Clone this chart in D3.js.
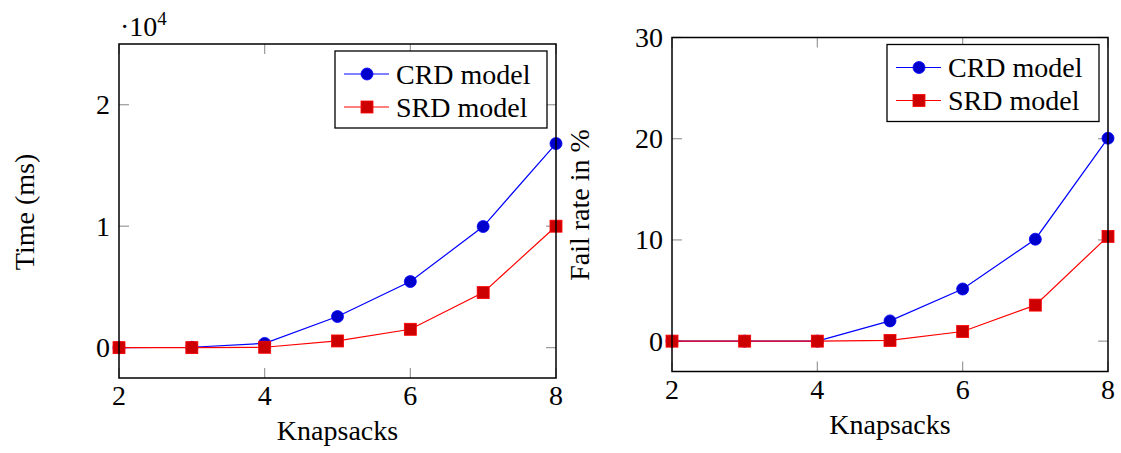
<!DOCTYPE html>
<html>
<head>
<meta charset="utf-8">
<script src="https://cdn.jsdelivr.net/npm/d3@7"></script>
<style>
  body { margin: 0; background: #fff; }
</style>
</head>
<body>
<svg id="chart" width="1121" height="453"></svg>
<script>
// knapsack counts on the x axis
var knapsacks = [2, 3, 4, 5, 6, 7, 8];
var xTicks = [2, 4, 6, 8];

// left panel: run time (ms)
var timeCRD = [0, 30, 350, 2560, 5440, 9970, 16800];
var timeSRD = [0, 0, 30, 550, 1510, 4530, 10000];
var timeTicks = [0, 10000, 20000];

// right panel: fail rate (%)
var failCRD = [0, 0, 0, 2.0, 5.15, 10.07, 20.05];
var failSRD = [0, 0, 0, 0.07, 0.95, 3.56, 10.35];
var failTicks = [0, 10, 20, 30];

var seriesNames = ["CRD model", "SRD model"];

const FONT = "'Liberation Serif', serif";
const svg = d3.select("#chart").style("font-family", FONT);
const FS = 28;

function addText(sel) {
    return sel.append("text").style("font-family", FONT)
        .attr("fill", "#000").attr("font-size", FS);
}

function drawPanel(opt) {
    const g = svg.append("g");
    const x = d3.scaleLinear().domain([2, 8]).range([opt.left, opt.right]);
    const y = d3.scaleLinear().domain(opt.yDomain).range([opt.bottom, opt.top]);

    // tick marks inside the box, on all four sides
    const tickLen = 10;
    opt.xTicks.forEach(function (t) {
        g.append("line").attr("x1", x(t)).attr("x2", x(t))
            .attr("y1", opt.bottom).attr("y2", opt.bottom - tickLen)
            .attr("stroke", "#999").attr("stroke-width", 1.2);
        g.append("line").attr("x1", x(t)).attr("x2", x(t))
            .attr("y1", opt.top).attr("y2", opt.top + tickLen)
            .attr("stroke", "#999").attr("stroke-width", 1.2);
        addText(g).attr("x", x(t)).attr("y", opt.bottom + 27)
            .attr("text-anchor", "middle").text(t);
    });
    opt.yTicks.forEach(function (t) {
        g.append("line").attr("x1", opt.left).attr("x2", opt.left + tickLen)
            .attr("y1", y(t)).attr("y2", y(t))
            .attr("stroke", "#999").attr("stroke-width", 1.2);
        g.append("line").attr("x1", opt.right).attr("x2", opt.right - tickLen)
            .attr("y1", y(t)).attr("y2", y(t))
            .attr("stroke", "#999").attr("stroke-width", 1.2);
        addText(g).attr("x", opt.left - 9).attr("y", y(t))
            .attr("dy", "0.34em")
            .attr("text-anchor", "end").text(opt.yFormat(t));
    });

    // lines + markers
    const colors = [["#0000ff", "#0000cc"], ["#ff0000", "#cc0000"]];
    const line = d3.line().x(d => x(d[0])).y(d => y(d[1]));
    opt.series.forEach(function (vals, si) {
        const pts = knapsacks.map((k, i) => [k, vals[i]]);
        g.append("path").datum(pts)
            .attr("d", line).attr("fill", "none")
            .attr("stroke", colors[si][0]).attr("stroke-width", 1.2);
        if (si === 0) {
            g.selectAll(".c").data(pts).enter().append("circle")
                .attr("cx", d => x(d[0])).attr("cy", d => y(d[1])).attr("r", 6)
                .attr("fill", colors[si][1]).attr("stroke", colors[si][0]).attr("stroke-width", 0.8);
        } else {
            g.selectAll(".s").data(pts).enter().append("rect")
                .attr("x", d => x(d[0]) - 6).attr("y", d => y(d[1]) - 6)
                .attr("width", 12).attr("height", 12)
                .attr("fill", colors[si][1]).attr("stroke", colors[si][0]).attr("stroke-width", 0.8);
        }
    });

    // frame
    g.append("rect").attr("x", opt.left).attr("y", opt.top)
        .attr("width", opt.right - opt.left).attr("height", opt.bottom - opt.top)
        .attr("fill", "none").attr("stroke", "#000").attr("stroke-width", 1.5);

    // legend
    const lw = 212, lh = 77;
    const lx = opt.right - 9 - lw, ly = opt.top + 7;
    const lg = g.append("g").attr("transform", "translate(" + lx + "," + ly + ")");
    lg.append("rect").attr("width", lw).attr("height", lh)
        .attr("fill", "#fff").attr("stroke", "#000").attr("stroke-width", 1.3);
    seriesNames.forEach(function (name, si) {
        const ry = si === 0 ? 23 : 56;
        lg.append("line").attr("x1", 9).attr("x2", 54).attr("y1", ry).attr("y2", ry)
            .attr("stroke", colors[si][0]).attr("stroke-width", 1.2);
        if (si === 0) {
            lg.append("circle").attr("cx", 32).attr("cy", ry).attr("r", 6)
                .attr("fill", colors[si][1]).attr("stroke", colors[si][0]).attr("stroke-width", 0.8);
        } else {
            lg.append("rect").attr("x", 26).attr("y", ry - 6).attr("width", 12).attr("height", 12)
                .attr("fill", colors[si][1]).attr("stroke", colors[si][0]).attr("stroke-width", 0.8);
        }
        addText(lg).attr("x", 61).attr("y", ry).attr("dy", "0.34em").text(name);
    });

    // axis labels
    addText(g).attr("x", (opt.left + opt.right) / 2).attr("y", opt.xLabelY)
        .attr("text-anchor", "middle").text("Knapsacks");
    addText(g)
        .attr("transform", "translate(" + opt.yLabelX + "," + opt.yLabelCY + ") rotate(-90)")
        .attr("text-anchor", "middle").text(opt.yLabel);
    return g;
}

const left = drawPanel({
    left: 119, right: 556, top: 44, bottom: 378,
    yDomain: [-2500, 25000],
    xTicks: xTicks, yTicks: timeTicks,
    yFormat: d => d / 10000,
    series: [timeCRD, timeSRD],
    xLabelY: 440, yLabelX: 34, yLabelCY: 212, yLabel: "Time (ms)"
});
// scale factor label
const sf = addText(left).attr("x", 120).attr("y", 36);
sf.append("tspan").text("·10");
sf.append("tspan").attr("dy", -11).attr("font-size", 19).text("4");

drawPanel({
    left: 672, right: 1108, top: 37.5, bottom: 371.5,
    yDomain: [-3, 30],
    xTicks: xTicks, yTicks: failTicks,
    yFormat: d => d,
    series: [failCRD, failSRD],
    xLabelY: 434, yLabelX: 589, yLabelCY: 205, yLabel: "Fail rate in %"
});
</script>
</body>
</html>
